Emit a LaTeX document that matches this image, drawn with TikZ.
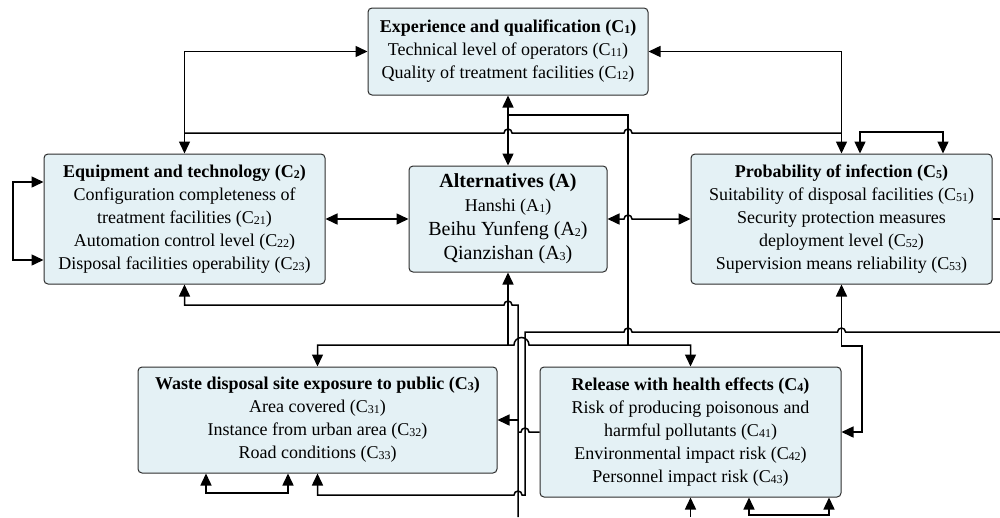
\documentclass[tikz,border=0pt]{standalone}
\usepackage{fontspec}
\setmainfont{Liberation Serif}
\usetikzlibrary{arrows.meta}
\definecolor{boxfill}{RGB}{228,241,245}
\definecolor{boxline}{RGB}{45,45,45}
\newcommand{\sbs}[1]{\raisebox{-1pt}{\fontsize{12}{12}\selectfont #1}}

\begin{document}
\begin{tikzpicture}[x=1pt,y=-1pt,line width=1.5pt,
    arr/.style={-{Triangle[length=12pt,width=11pt]}},
    darr/.style={{Triangle[length=12pt,width=11pt]}-{Triangle[length=12pt,width=11pt]}}]
    \useasboundingbox (0,0) rectangle (1000,517);
    \begin{scope}[every node/.style={draw=boxline,fill=boxfill,line width=1pt,rounded corners=4pt,align=center,inner sep=0pt,font=\fontsize{18}{23}\selectfont}]
        \node[minimum width=280pt,minimum height=87pt] (C1) at (508,51.5) {\textbf{Experience and qualification (C\sbs{1})}\\Technical level of operators (C\sbs{11})\\Quality of treatment facilities (C\sbs{12})};
        \node[minimum width=281pt,minimum height=130pt] (C2) at (184.5,219) {\textbf{Equipment and technology (C\sbs{2})}\\Configuration completeness of\\treatment facilities (C\sbs{21})\\Automation control level (C\sbs{22})\\Disposal facilities operability (C\sbs{23})};
        \node[minimum width=198pt,minimum height=106pt,font=\fontsize{20}{24}\selectfont] (A) at (508,219) {\textbf{Alternatives (A)}\\{\fontsize{18}{24}\selectfont Hanshi (A\sbs{1})}\\Beihu Yunfeng (A\sbs{2})\\Qianzishan (A\sbs{3})};
        \node[minimum width=301pt,minimum height=130pt] (C5) at (841.5,219) {\textbf{Probability of infection (C\sbs{5})}\\Suitability of disposal facilities (C\sbs{51})\\Security protection measures\\deployment level (C\sbs{52})\\Supervision means reliability (C\sbs{53})};
        \node[minimum width=359pt,minimum height=106pt] (C3) at (317.5,420) {\textbf{Waste disposal site exposure to public (C\sbs{3})}\\Area covered (C\sbs{31})\\Instance from urban area (C\sbs{32})\\Road conditions (C\sbs{33})};
        \node[minimum width=301pt,minimum height=130pt] (C4) at (690.5,432) {\textbf{Release with health effects (C\sbs{4})}\\Risk of producing poisonous and\\harmful pollutants (C\sbs{41})\\Environmental impact risk (C\sbs{42})\\Personnel impact risk (C\sbs{43})};
    \end{scope}
    % top part
    \draw[darr] (C1.west) -- (C2.north |- C1.west) -- (C2.north);
    \draw[darr] (C1.east) -- (C5.north |- C1.east) -- (C5.north);
    \draw (C2.north |- 0,133) -- (504,133) arc[start angle=180,end angle=360,radius=4] -- (624,133) arc[start angle=180,end angle=360,radius=4] -- (C5.north |- 0,133);
    \draw[darr] (C5.north -| 860,0) -- (860,132) -- (943,132) -- (C5.north -| 943,0);
    \draw[darr] (C1.south) -- (A.north);
    \draw (508,115) -- (628,115) -- (628,345);
    % middle row
    \draw[darr] (C2.west |- 0,182) -- (13,182) -- (13,260) -- (C2.west |- 0,260);
    \draw[darr] (C2.east) -- (A.west);
    \draw[darr] (A.east) -- (624,219) arc[start angle=180,end angle=360,radius=4] -- (C5.west);
    \draw (C5.east) -- (1000,219);
    \draw[darr] (C5.south) -- (C5.south |- 0,346) -- (862,346) -- (862,432) -- (C4.east);
    % lower part
    \draw[arr] (508,345) -- (A.south);
    \draw[darr] (C3.north) -- (C3.north |- 0,345) -- (514,345) arc[start angle=180,end angle=360,radius=7.5] -- (C4.north |- 0,345) -- (C4.north);
    \draw[arr] (518,517) -- (518,305) -- (512,305) arc[start angle=0,end angle=-180,radius=4] -- (C2.south |- 0,305) -- (C2.south);
    \draw[arr] (518,420) -- (C3.east);
    \draw (C4.west) -- (529,432) arc[start angle=0,end angle=-180,radius=4] -- (518,432);
    \draw[arr] (1000,332) -- (845.5,332) arc[start angle=0,end angle=-180,radius=4] -- (632,332) arc[start angle=0,end angle=-180,radius=4] -- (525,332) -- (525,495) -- (522,495) arc[start angle=0,end angle=-180,radius=4] -- (C3.south |- 0,495) -- (C3.south);
    \draw[darr] (C3.south -| 206,0) -- (206,493) -- (288,493) -- (C3.south -| 288,0);
    \draw[arr] (C4.south |- 0,517) -- (C4.south);
    \draw[darr] (C4.south -| 749,0) -- (749,515) -- (829,515) -- (C4.south -| 829,0);
\end{tikzpicture}
\end{document}
